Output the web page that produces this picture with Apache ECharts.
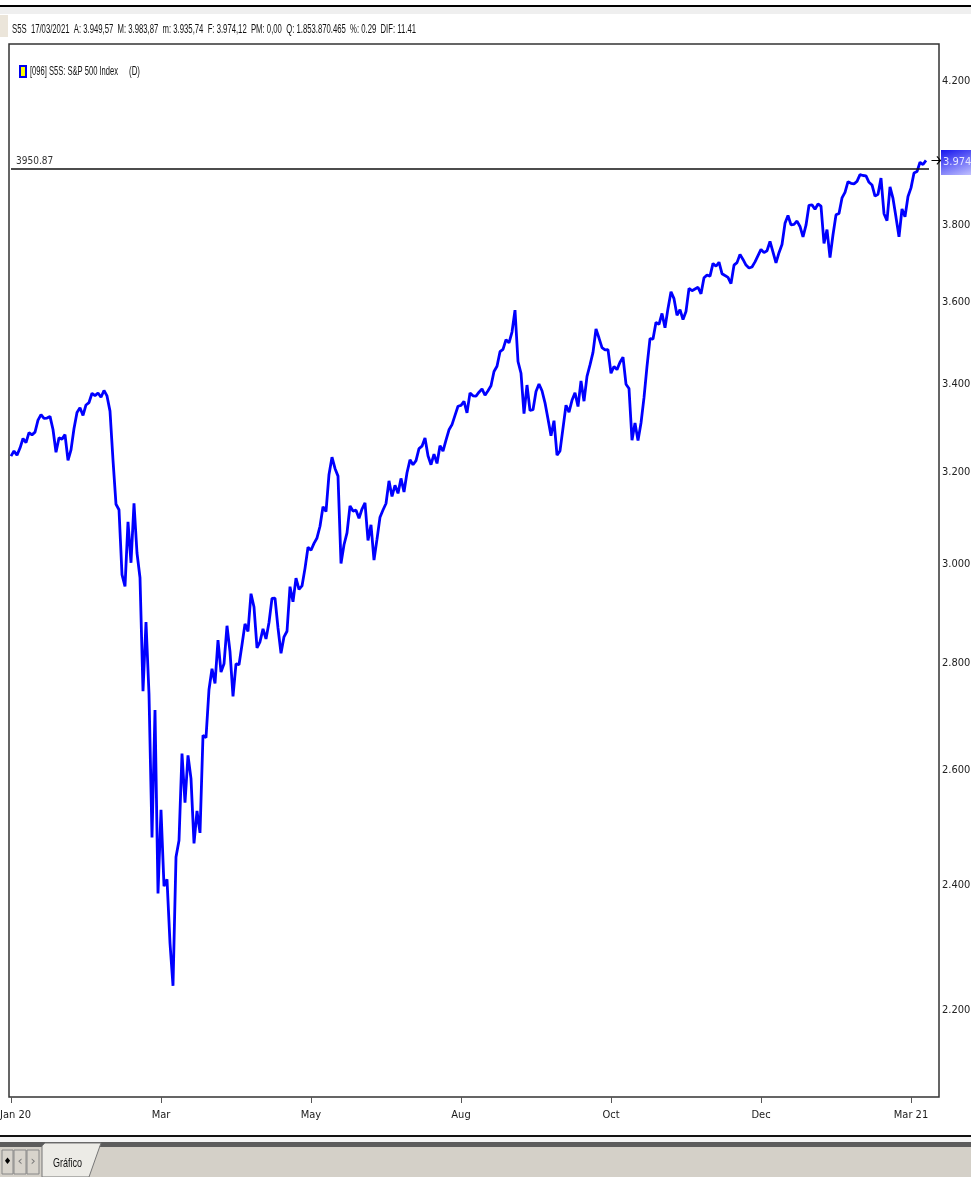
<!DOCTYPE html>
<html><head><meta charset="utf-8">
<script src="https://cdn.jsdelivr.net/npm/echarts@6/dist/echarts.min.js"></script>
<style>html,body{margin:0;padding:0;background:#fff;overflow:hidden}#c{width:971px;height:1177px}</style>
</head><body><div id="c"></div>
<script>
// ---- daily closes, null = calendar day with no quote
const closeJan20 = [3234.85,3246.28,3237.18,3253.05,3274.70,3265.35,3288.13,3283.15,3289.29,3316.81,3329.62,3320.79,3321.75,3325.54,3295.47,3243.63,3276.24,3273.40,3283.66,3225.52];
const closeFeb20 = [3248.92,3297.59,3334.69,3345.78,3327.71,3352.09,3357.75,3379.45,3373.94,3380.16,3370.29,3386.15,3373.23,3337.75,3225.89,3128.21,3116.39,2978.76,2954.22];
const closeMar20 = [3090.23,3003.37,3130.12,3023.94,2972.37,2746.56,2882.23,2741.38,2480.64,2711.02,2386.13,2529.19,2398.10,2409.39,2304.92,2237.40,2447.33,2475.56,2630.07,2541.47,2626.65,2584.59];
const closeApr20 = [2470.50,2526.90,2488.65,2663.68,2659.41,2749.98,2789.82,2761.63,2846.06,2783.36,2799.55,2874.56,2823.16,2736.56,2799.31,2797.80,2836.74,2878.48,2863.39,2939.51,2912.43];
const closeMay20 = [2830.71,2842.74,2868.44,2848.42,2881.19,2929.80,2930.32,2870.12,2820.00,2852.50,2863.70,2953.91,2922.94,2971.61,2948.51,2955.45,2991.77,3036.13,3029.73,3044.31];
const closeJun20 = [3055.73,3080.82,3122.87,3112.35,3193.93,3232.39,3207.18,3190.14,3002.10,3041.31,3066.59,3124.74,3113.49,3115.34,3097.74,3117.86,3131.29,3050.33,3083.76,3009.05,3053.24,3100.29];
const closeJul20 = [3115.86,3130.01,3179.72,3145.32,3169.94,3152.05,3185.04,3155.22,3197.52,3226.56,3215.57,3224.73,3251.84,3257.30,3276.02,3235.66,3215.63,3239.41,3218.44,3258.44,3246.22,3271.12];
const closeAug20 = [3294.61,3306.51,3327.77,3349.16,3351.28,3360.47,3333.69,3380.35,3373.43,3372.85,3381.99,3389.78,3374.85,3385.51,3397.16,3431.28,3443.62,3478.73,3484.55,3508.01,3500.31];
const closeSep20 = [3526.65,3580.84,3455.06,3426.96,3331.84,3398.96,3339.19,3340.97,3383.54,3401.20,3385.49,3357.01,3319.47,3281.06,3315.57,3236.92,3246.59,3298.46,3351.60,3335.47,3363.00];
const closeOct20 = [3380.80,3348.42,3408.60,3360.97,3419.44,3446.83,3477.14,3534.22,3511.93,3488.67,3483.34,3483.81,3426.92,3443.12,3435.56,3453.49,3465.39,3400.97,3390.68,3271.03,3310.11,3269.96];
const closeNov20 = [3310.24,3369.16,3443.44,3510.45,3509.44,3550.50,3545.53,3572.66,3537.01,3585.15,3626.91,3609.53,3567.79,3581.87,3557.54,3577.59,3635.41,3629.65,null,3638.35,3621.63];
const closeDec20 = [3662.45,3669.01,3666.72,3699.12,3691.96,3702.25,3672.82,3668.10,3663.46,3647.49,3694.62,3701.17,3722.48,3709.41,3694.92,3687.26,3690.01,3703.06,null,3735.36,3727.04,3732.04,3756.07];
const closeJan21 = [null,3700.65,3726.86,3748.14,3803.79,3824.68,3799.61,3801.19,3809.84,3795.54,3768.25,3798.91,3851.85,3853.07,3841.47,3855.36,3849.62,3750.77,3787.38,3714.24];
const closeFeb21 = [3773.86,3826.31,3830.17,3871.74,3886.83,3915.59,3911.23,3909.88,3916.38,3934.83,3932.59,3931.33,3913.97,3906.71,3876.50,3881.37,3925.43,3829.34,3811.15];
const closeMar21 = [3901.82,3870.29,3819.72,3768.47,3841.94,3821.35,3875.44,3898.81,3939.34,3943.34,3968.94,3962.71,3974.12];

const monthKeys = ['2020-01','2020-02','2020-03','2020-04','2020-05','2020-06','2020-07','2020-08','2020-09','2020-10','2020-11','2020-12','2021-01','2021-02','2021-03'];
const monthCloses = [closeJan20,closeFeb20,closeMar20,closeApr20,closeMay20,closeJun20,closeJul20,closeAug20,closeSep20,closeOct20,closeNov20,closeDec20,closeJan21,closeFeb21,closeMar21];

const xTickLabels = ['Jan 20','Mar','May','Aug','Oct','Dec','Mar 21'];
const xTickEvery = 50;
const yTickValues = [2200,2400,2600,2800,3000,3200,3400,3600,3800,4200];
const refLevel = 3950.87;
const lastClose = 3974.12;
const headerText = 'S5S  17/03/2021  A: 3.949,57  M: 3.983,87  m: 3.935,74  F: 3.974,12  PM: 0,00  Q: 1.853.870.465  %: 0.29  DIF: 11.41';
const legendText = '[096] S5S: S&P 500 Index';

// ---- build category axis
const categories = [];
const values = [];
monthKeys.forEach((m, mi) => {
  monthCloses[mi].forEach((v, k) => { categories.push(m + '#' + (k + 1)); values.push(v); });
});
const lastIdx = values.length - 1;
for (let i = 0; i < 4; i++) { categories.push('pad' + i); } // empty space right of last bar

function fmtEs(v, d) {
  const s = v.toFixed(d).split('.');
  return s[0].replace(/\B(?=(\d{3})+(?!\d))/g, '.') + (d ? ',' + s[1] : '');
}

const COND = '"DejaVu Sans Condensed","Liberation Sans Narrow",sans-serif';
const ARIAL = '"Liberation Sans", Arial, sans-serif';
const mctx = document.createElement('canvas').getContext('2d');
function squeeze(text, font, target) { mctx.font = font; return target / mctx.measureText(text).width; }
function narrowText(x, y, text, size, target, extra) {
  const font = size + 'px ' + ARIAL;
  const sx = squeeze(text, font, target);
  return Object.assign({type: 'text', x: x, y: y, scaleX: sx, scaleY: 1,
    style: {text: text, fill: '#111', font: font, textVerticalAlign: 'middle'}}, extra || {});
}

const chart = echarts.init(document.getElementById('c'), null, {renderer: 'canvas'});
chart.setOption({
  animation: false,
  backgroundColor: '#ffffff',
  grid: {left: 11, right: 33, top: 44, bottom: 80, containLabel: false, outerBoundsMode: 'none'},
  xAxis: {
    type: 'category', data: categories, boundaryGap: false,
    axisLine: {show: false},
    axisTick: {show: true, interval: xTickEvery - 1, length: 6, lineStyle: {color: '#555', width: 1}},
    axisLabel: {
      interval: xTickEvery - 1, margin: 13, color: '#1a1a1a', fontFamily: COND, fontSize: 11,
      formatter: (val, idx) => {
        const t = xTickLabels[Math.round(idx / xTickEvery)] || '';
        return idx === 0 ? '{first|' + t + '}' : t;
      },
      rich: {first: {padding: [0, 0, 0, 9], fontFamily: COND, fontSize: 11, color: '#1a1a1a'}}
    },
    splitLine: {show: false}
  },
  yAxis: {
    type: 'log', position: 'right', min: 2070.8, max: 4309.5,
    axisLine: {show: false}, axisTick: {show: false}, splitLine: {show: false},
    axisLabel: {
      customValues: yTickValues,
      margin: 4, color: '#222', fontFamily: COND, fontSize: 11,
      formatter: v => fmtEs(v, 2)
    }
  },
  series: [{
    type: 'line', data: values, connectNulls: true, showSymbol: false, z: 3,
    lineStyle: {color: '#0000ff', width: 2.8},
    markLine: {
      silent: true, symbol: 'none', animation: false,
      lineStyle: {color: '#111', width: 1.6, type: 'solid'},
      label: {show: true, position: 'insideStartTop', distance: [5, 2], formatter: String(refLevel), color: '#333', fontFamily: COND, fontSize: 10},
      data: [[{coord: [0, refLevel]}, {coord: [lastIdx + 1, refLevel]}]]
    },
    markPoint: {
      silent: true, animation: false,
      data: [
        {coord: [lastIdx, lastClose], symbol: 'rect', symbolSize: [46, 25], symbolOffset: [38, 2],
         itemStyle: {color: new echarts.graphic.LinearGradient(0, 0, 0.7, 1, [{offset: 0, color: '#1414ee'}, {offset: 1, color: '#c4c4ff'}])},
         label: {show: true, position: 'insideLeft', distance: 2, formatter: fmtEs(lastClose, 2), color: '#e4e4ff', fontFamily: COND, fontSize: 11}},
        {coord: [lastIdx, lastClose], symbol: 'path://M0,5 L10,5 M6,1 L10,5 L6,9', symbolSize: [9, 8], symbolOffset: [10, 0],
         itemStyle: {color: 'rgba(0,0,0,0)', borderColor: '#000', borderWidth: 1}, label: {show: false}}
      ]
    }
  }],
  graphic: [
    {type: 'rect', shape: {x: 0, y: 5, width: 971, height: 2}, style: {fill: '#000'}},
    {type: 'rect', shape: {x: 0, y: 7, width: 971, height: 7}, style: {fill: '#efefef'}},
    {type: 'rect', shape: {x: 0, y: 15, width: 8, height: 22}, style: {fill: '#ebe5da'}},
    narrowText(12, 30, headerText, 12, 404),
    {type: 'rect', shape: {x: 19, y: 65, width: 8, height: 13}, style: {fill: '#0000ee'}},
    {type: 'rect', shape: {x: 21, y: 67, width: 4, height: 9}, style: {fill: '#ffff00'}},
    narrowText(30, 72, legendText, 12, 88),
    narrowText(129, 72, '(D)', 12, 11),
    {type: 'rect', shape: {x: 9, y: 44, width: 930, height: 1053}, style: {fill: 'none', stroke: '#333', lineWidth: 1.5}, z: -1},
    {type: 'rect', shape: {x: 0, y: 1135, width: 971, height: 2}, style: {fill: '#111'}},
    {type: 'rect', shape: {x: 0, y: 1137, width: 971, height: 5}, style: {fill: '#f4f4f4'}},
    {type: 'rect', shape: {x: 0, y: 1142, width: 971, height: 5}, style: {fill: '#5c5c5c'}},
    {type: 'rect', shape: {x: 0, y: 1147, width: 971, height: 30}, style: {fill: '#d4d0c8'}},
    {type: 'polygon', shape: {points: [[42, 1177], [42, 1146], [45, 1143], [101, 1143], [89, 1177]]}, style: {fill: '#ecebe6', stroke: '#777', lineWidth: 1}},
    narrowText(53, 1163, 'Gráfico', 13, 29),
    {type: 'rect', shape: {x: 2, y: 1150, width: 11, height: 24}, style: {fill: '#d8d4cc', stroke: '#888', lineWidth: 1}},
    {type: 'rect', shape: {x: 14, y: 1150, width: 12, height: 24}, style: {fill: '#d8d4cc', stroke: '#888', lineWidth: 1}},
    {type: 'rect', shape: {x: 27, y: 1150, width: 12, height: 24}, style: {fill: '#d8d4cc', stroke: '#888', lineWidth: 1}},
    {type: 'text', x: 7.5, y: 1162, style: {text: '♦', fill: '#000', font: '9px DejaVu Sans', textAlign: 'center', textVerticalAlign: 'middle'}},
    {type: 'text', x: 20, y: 1162, style: {text: '‹', fill: '#777', font: '13px DejaVu Sans', textAlign: 'center', textVerticalAlign: 'middle'}},
    {type: 'text', x: 33, y: 1162, style: {text: '›', fill: '#777', font: '13px DejaVu Sans', textAlign: 'center', textVerticalAlign: 'middle'}}
  ]
});
</script></body></html>
